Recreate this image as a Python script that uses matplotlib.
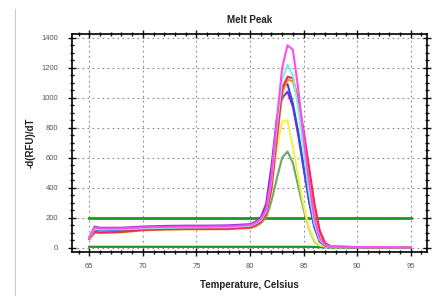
import matplotlib.pyplot as plt
from matplotlib.ticker import MultipleLocator

plt.rcParams["font.family"] = ["Liberation Sans", "DejaVu Sans"]

# melt temperatures (Celsius)
temps = [65, 65.5, 66, 68, 70, 72, 74, 76, 78, 80, 80.5, 81, 81.5, 82, 82.5,
         83, 83.5, 84, 84.5, 85, 85.5, 86, 86.5, 87, 87.5, 88, 90, 95]

# -d(RFU)/dT per well
magenta = [70, 135, 128, 128, 135, 138, 140, 140, 142, 150, 165, 190, 250, 470, 850,
           1200, 1350, 1320, 1060, 740, 440, 200, 65, 18, 8, 5, 3, 2]
cyan = [65, 125, 120, 122, 128, 132, 134, 135, 136, 145, 160, 182, 240, 450, 810,
        1120, 1220, 1150, 930, 650, 370, 165, 52, 15, 8, 5, 3, 2]
red = [60, 105, 100, 105, 118, 122, 124, 124, 125, 135, 150, 172, 220, 400, 740,
       1060, 1140, 1130, 990, 780, 540, 300, 115, 30, 10, 6, 3, 2]
orange = [55, 100, 98, 102, 115, 120, 122, 122, 123, 132, 146, 168, 212, 385, 715,
          1030, 1120, 1110, 970, 760, 520, 280, 105, 28, 10, 6, 3, 2]
blue = [62, 120, 115, 118, 125, 128, 130, 130, 132, 142, 158, 182, 245, 470, 830,
        1080, 1090, 960, 770, 540, 320, 145, 45, 15, 8, 5, 3, 2]
purple = [60, 140, 132, 132, 140, 144, 146, 146, 148, 156, 172, 200, 290, 540, 860,
          1000, 1040, 940, 750, 530, 310, 135, 40, 12, 6, 4, 2, 2]
yellow = [58, 115, 110, 115, 124, 128, 130, 130, 132, 140, 152, 172, 225, 400, 660,
          840, 850, 670, 470, 280, 130, 48, 15, 8, 5, 4, 2, 2]
olive = [60, 118, 112, 116, 125, 128, 128, 128, 128, 130, 140, 162, 200, 310, 460,
         600, 640, 565, 410, 255, 125, 42, 12, 6, 4, 3, 2, 2]
neg_ctrl = [5, 5, 5, 5, 5, 5, 5, 5, 5, 5, 5, 5, 5, 5, 5,
            5, 5, 5, 5, 5, 5, 4, 3, 2, 1, 1, 0, 0]

threshold = 195

series = [
    (olive, "#6aa86a"),
    (yellow, "#f5f050"),
    (purple, "#8a2fc8"),
    (blue, "#3548e0"),
    (orange, "#ff8a1a"),
    (red, "#ee2a55"),
    (cyan, "#7ff2dc"),
    (magenta, "#ff4cf0"),
]

fig = plt.figure(figsize=(4.32, 2.96), dpi=100)
ax = fig.add_axes([0.167, 0.149, 0.821, 0.736])

ax.plot(temps, neg_ctrl, color="#1a9a1a", lw=1.6)
ax.plot([65, 95], [threshold, threshold], color="#1a9a1a", lw=2.0)
for vals, col in series:
    ax.plot(temps, vals, color=col, lw=1.5)

ax.set_xlim(63.4, 96.5)
ax.set_ylim(-29, 1425)
ax.xaxis.set_major_locator(MultipleLocator(5))
ax.xaxis.set_minor_locator(MultipleLocator(1))
ax.yaxis.set_major_locator(MultipleLocator(200))
ax.yaxis.set_minor_locator(MultipleLocator(50))
ax.tick_params(which="both", direction="inout", top=True, right=True,
               labelsize=5.5, labelcolor="#555555", colors="#111111")
ax.tick_params(which="major", length=6, width=1)
ax.tick_params(which="minor", length=3, width=1)
ax.tick_params(axis="y", which="major", pad=7)
ax.tick_params(axis="x", which="major", pad=5)
ax.grid(True, which="major", linestyle=(0, (1.5, 3)), color="#888888", lw=0.8)
for s in ax.spines.values():
    s.set_linewidth(1.2)

ax.set_title("Melt Peak", fontsize=7, fontweight="bold", color="#222222", pad=8)
ax.set_xlabel("Temperature, Celsius", fontsize=7, fontweight="bold", color="#222222",
              labelpad=7)
ax.set_ylabel("-d(RFU)/dT", fontsize=7, fontweight="bold", color="#222222", labelpad=4)

# faint border line at the left of the screenshot
fig.add_artist(plt.Line2D([0.035, 0.035], [0.0, 0.97], color="#cccccc", lw=0.8))

fig.savefig("out.png", dpi=100)
